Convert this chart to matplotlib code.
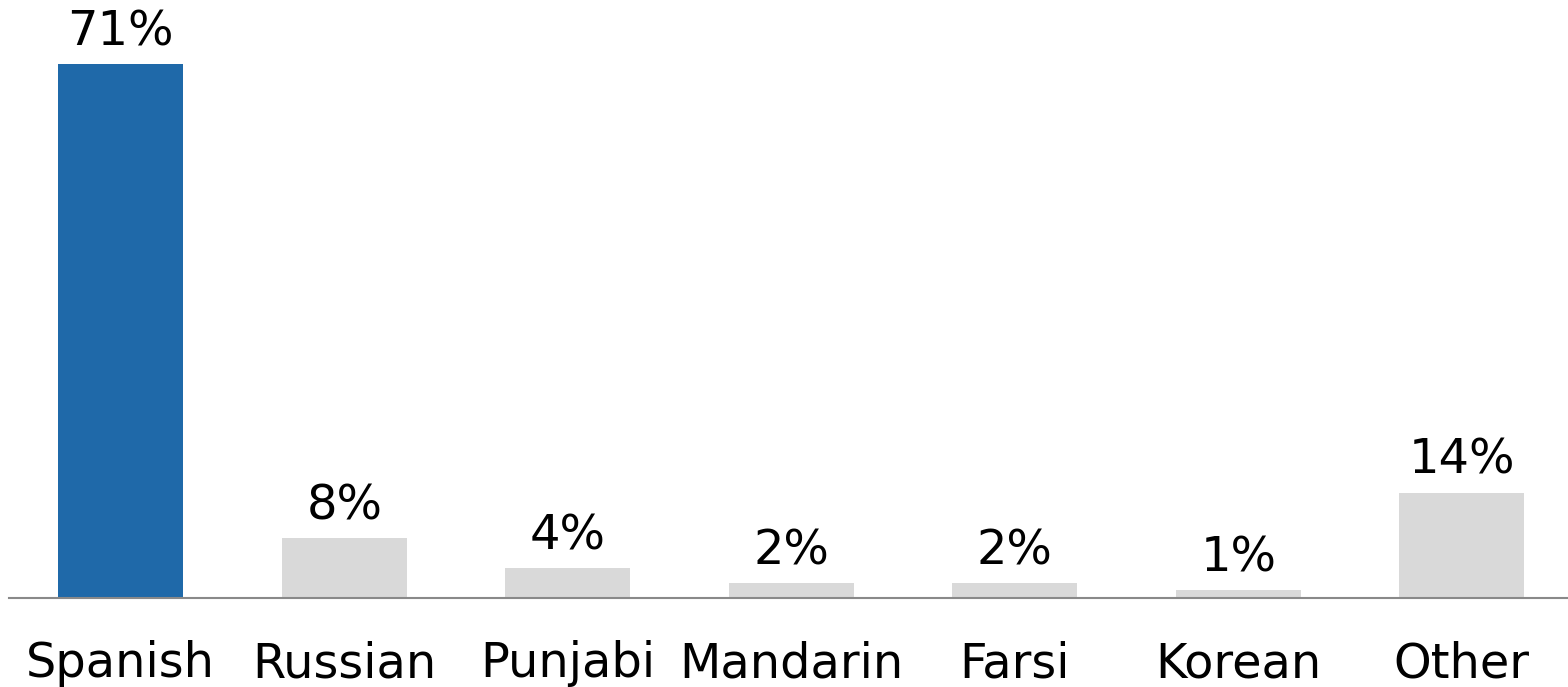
import matplotlib
matplotlib.use('Agg')
import matplotlib.pyplot as plt

# 数据
languages = ['Spanish', 'Russian', 'Punjabi', 'Mandarin', 'Farsi', 'Korean', 'Other']
shares = [71, 8, 4, 2, 2, 1, 14]
labels = ['71%', '8%', '4%', '2%', '2%', '1%', '14%']
colors = ['#1F69A9'] + ['#D9D9D9'] * 6

plt.rcParams['font.family'] = ['DejaVu Sans']

fig = plt.figure(figsize=(15.68, 6.87), dpi=100)
ax = fig.add_axes([9 / 1568, 89 / 687, 1 - 9 / 1568, 1 - 89 / 687])

x = list(range(len(languages)))
ax.bar(x, shares, width=0.56, color=colors, zorder=2)

for i, (v, lab) in enumerate(zip(shares, labels)):
    ax.annotate(lab, xy=(i, v), xytext=(0, 13.5), textcoords='offset points',
                ha='center', va='baseline', fontsize=34.5, color='black')
    ax.annotate(languages[i], xy=(i, 0), xycoords=('data', 'axes fraction'),
                xytext=(0, -57), textcoords='offset points',
                ha='center', va='baseline', fontsize=34.5, color='black',
                annotation_clip=False)

ax.set_xlim(-0.5, 6.475)
ax.set_ylim(0, 79.5)
for side in ['top', 'left', 'right']:
    ax.spines[side].set_visible(False)
ax.spines['bottom'].set_color('#898989')
ax.spines['bottom'].set_linewidth(1.5)
ax.spines['bottom'].set_zorder(3)
ax.set_xticks([])
ax.set_yticks([])

fig.savefig('out.png', dpi=100)
